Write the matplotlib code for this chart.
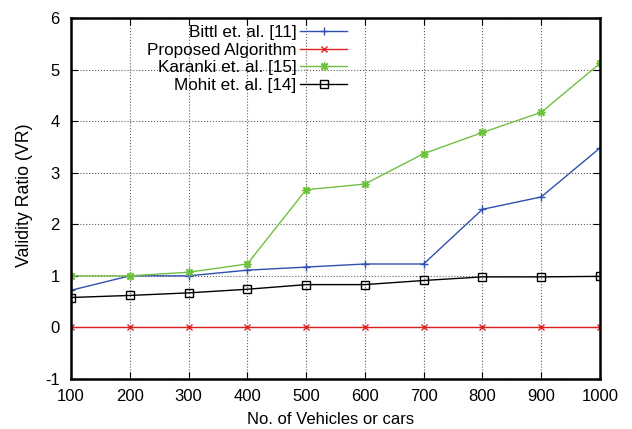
import numpy as np
import matplotlib.pyplot as plt

plt.rcParams['font.family'] = ['Liberation Sans', 'DejaVu Sans']
plt.rcParams['axes.unicode_minus'] = False

vehicles = [100, 200, 300, 400, 500, 600, 700, 800, 900, 1000]
bittl = [0.72, 1.0, 1.0, 1.11, 1.17, 1.23, 1.23, 2.29, 2.53, 3.48]
proposed = [0, 0, 0, 0, 0, 0, 0, 0, 0, 0]
karanki = [1.0, 1.0, 1.07, 1.23, 2.67, 2.78, 3.37, 3.78, 4.17, 5.12]
mohit = [0.58, 0.62, 0.67, 0.74, 0.83, 0.83, 0.91, 0.98, 0.98, 0.99]

fig = plt.figure(figsize=(6.32, 4.29), dpi=100)
ax = fig.add_axes([0.1123, 0.1166, 0.8370, 0.8414])

ax.plot(vehicles, bittl, color='#3050b0', lw=1, marker='+', ms=6, label='Bittl et. al. [11]')
ax.plot(vehicles, proposed, color='#e02020', lw=1, marker='x', ms=5, label='Proposed Algorithm')
ax.plot(vehicles, karanki, color='#70c040', lw=1, marker=(8, 2, 0), ms=6, label='Karanki et. al. [15]')
ax.plot(vehicles, mohit, color='black', lw=1, marker='s', ms=6, mfc='none', label='Mohit et. al. [14]')

ax.set_xlim(100, 1000)
ax.set_ylim(-1, 6)
ax.set_xticks(vehicles)
ax.set_yticks(np.arange(-1, 7))
ax.tick_params(direction='in', top=True, right=True, labelsize=12, length=5)
ax.tick_params(axis='x', pad=7)
ax.tick_params(axis='y', pad=8)
ax.grid(True, linestyle=':', color='#606060', linewidth=0.8)
for s in ax.spines.values():
    s.set_linewidth(1.8)

ax.set_xlabel('No. of Vehicles or cars', fontsize=12)
ax.set_ylabel('Validity Ratio (VR)', fontsize=12.8)
ax.xaxis.set_label_coords(0.49, -0.091)
ax.yaxis.set_label_coords(-0.071, 0.51)

ax.legend(loc='upper right', bbox_to_anchor=(0.522, 0.98), frameon=False, markerfirst=False,
          fontsize=12.3, handlelength=2.75, handletextpad=0.2, labelspacing=0.15,
          borderpad=0, borderaxespad=0)

fig.savefig('out.png', dpi=100)
